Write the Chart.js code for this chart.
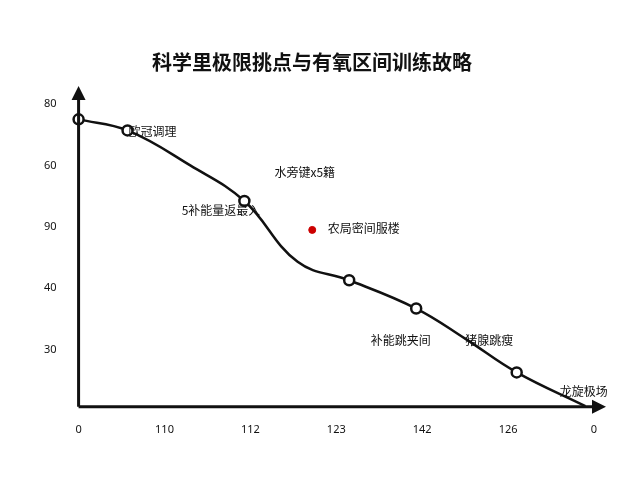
<!DOCTYPE html><html><head><meta charset="utf-8">
<script src="https://cdn.jsdelivr.net/npm/chart.js@4/dist/chart.umd.min.js"></script>
<style>body{margin:0;background:#fff}</style></head><body><canvas id="c" width="640" height="480"></canvas>
<script>
const title="科学里极限挑点与有氧区间训练故略";
const xTickLabels=["0","110","112","123","142","126","0"];
const yTickValues=[80,70,60,50,40];
const yTickLabels=["80","60","90","40","30"];
const curveX=[0,0.57,1.3,1.93,2.55,3.15,3.93,4.5,5.1,5.9];
const curveY=[77.5,75.7,70.0,64.2,54.3,51.3,46.7,41.8,36.3,30.8];
const markerShown=[1,1,0,1,0,1,1,0,1,0];
const redX=[2.72],redY=[59.5];
const noteText=["欧冠调理","水旁键x5籍","5补能量返最入","农局密间服楼","补能跳夹间","猪腺跳瘦","龙旋极场"];
const noteX=[0.58,2.28,1.2,2.9,3.4,4.5,5.6];
const noteY=[75.6,68.8,62.6,59.7,41.5,41.5,33.2];
const pts=curveX.map((x,i)=>({x,y:curveY[i]}));
const notes={id:'notes',afterDatasetsDraw(ch){const c=ch.ctx,xs=ch.scales.x,ys=ch.scales.y,a=ch.chartArea;
c.save();c.fillStyle='#111';c.font='12px "Noto Sans CJK SC"';c.textBaseline='middle';
noteText.forEach((t,i)=>c.fillText(t,xs.getPixelForValue(noteX[i]),ys.getPixelForValue(noteY[i])));
c.strokeStyle='#111';c.fillStyle='#111';c.lineWidth=3;
c.beginPath();c.moveTo(a.left,a.bottom);c.lineTo(a.left,a.top-8);c.stroke();
c.beginPath();c.moveTo(a.left-7,a.top-4);c.lineTo(a.left,a.top-18);c.lineTo(a.left+7,a.top-4);c.fill();
c.beginPath();c.moveTo(a.left,a.bottom);c.lineTo(a.right+2,a.bottom);c.stroke();
c.beginPath();c.moveTo(a.right-2,a.bottom-7);c.lineTo(a.right+12,a.bottom);c.lineTo(a.right-2,a.bottom+7);c.fill();
c.restore();}};
new Chart(document.getElementById('c'),{type:'scatter',
data:{datasets:[{data:pts,showLine:true,tension:0.4,borderColor:'#111',borderWidth:2.5,
pointRadius:ctx=>markerShown[ctx.dataIndex]?5:0,pointBackgroundColor:'#fff',pointBorderColor:'#111',pointBorderWidth:2.5},
{data:redX.map((x,i)=>({x,y:redY[i]})),pointRadius:3.5,pointBackgroundColor:'#c00',pointBorderColor:'#c00'}]},
options:{animation:false,responsive:false,devicePixelRatio:1,clip:false,
layout:{padding:{left:30,right:46,top:22,bottom:36}},
plugins:{legend:{display:false},tooltip:{enabled:false},
title:{display:true,text:title,color:'#111',font:{size:20,weight:'bold',family:'"Noto Sans CJK SC"'},padding:{top:28,bottom:30}}},
scales:{x:{type:'linear',min:0,max:6,grid:{display:false},border:{display:false},
afterBuildTicks:s=>{s.ticks=xTickLabels.map((_,i)=>({value:i}));},
ticks:{callback:(v,i)=>xTickLabels[i],color:'#111',font:{size:11,family:'"Noto Sans"'},padding:8}},
y:{min:30.7,max:80,grid:{display:false},border:{display:false},
afterBuildTicks:s=>{s.ticks=yTickValues.map(v=>({value:v}));},
ticks:{callback:(v,i)=>yTickLabels[i],color:'#111',font:{size:11,family:'"Noto Sans"'},padding:14}}}},
plugins:[notes]});
</script></body></html>
